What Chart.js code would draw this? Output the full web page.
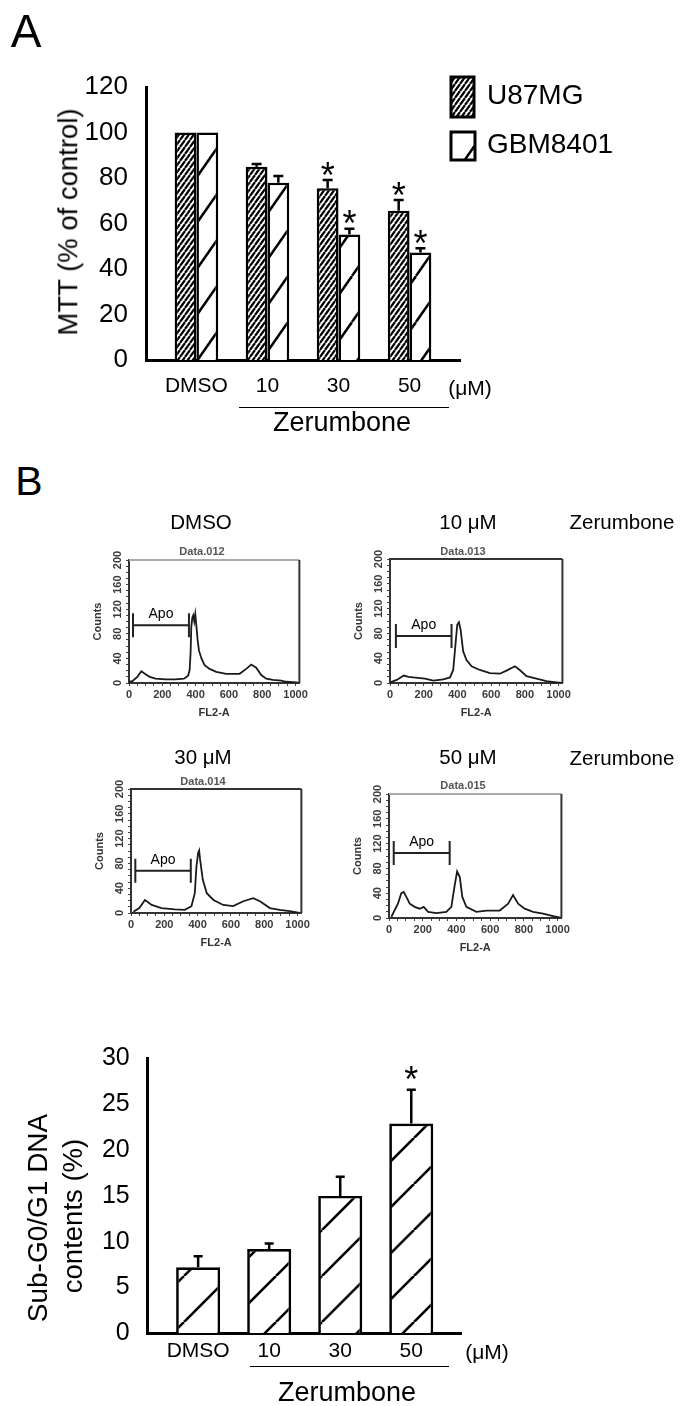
<!DOCTYPE html>
<html>
<head>
<meta charset="utf-8">
<script src="https://cdn.jsdelivr.net/npm/chart.js"></script>
<style>
  html, body { margin: 0; padding: 0; background: #fff; }
  #fig { position: relative; width: 685px; height: 1406px; background: #fff; overflow: hidden;
         font-family: "Liberation Sans", Arial, sans-serif; color: #000; }
  #fig canvas { position: absolute; }
  .t { position: absolute; white-space: nowrap; line-height: 1; transform: translate(-50%, -50%); }
  .rot { transform: translate(-50%, -50%) rotate(-90deg); }
  .small { font-weight: bold; font-size: 11px; color: #555; }
  .rule { position: absolute; height: 0; border-top: 1.5px solid #000; }
</style>
</head>
<body>
<div id="fig">
  <canvas id="mtt" width="685" height="440" style="left:0;top:0"></canvas>
  <canvas id="flow0" width="226" height="198" style="left:84px;top:530px"></canvas>
  <canvas id="flow1" width="228" height="199" style="left:345px;top:529px"></canvas>
  <canvas id="flow2" width="226" height="199" style="left:86px;top:759px"></canvas>
  <canvas id="flow3" width="228" height="199" style="left:344px;top:764px"></canvas>
  <canvas id="subg1" width="685" height="400" style="left:0;top:1000px"></canvas>

  <!-- panel A text -->
  <div class="t" style="left:26px;top:31px;font-size:46px">A</div>
  <div class="t rot" style="left:68px;top:222px;font-size:27.5px">MTT (% of control)</div>
  <div class="t" style="left:470px;top:387px;font-size:21px">(&mu;M)</div>
  <div class="rule" style="left:239px;top:407px;width:210px"></div>
  <div class="t" style="left:342px;top:422px;font-size:27px">Zerumbone</div>

  <!-- panel B text -->
  <div class="t" style="left:29px;top:481px;font-size:41px">B</div>
  <div class="t" style="left:201px;top:522px;font-size:20.5px">DMSO</div>
  <div class="t" style="left:468px;top:522px;font-size:20.5px">10 &mu;M</div>
  <div class="t" style="left:622px;top:522px;font-size:20.5px">Zerumbone</div>
  <div class="t" style="left:203px;top:757px;font-size:20.5px">30 &mu;M</div>
  <div class="t" style="left:468px;top:757px;font-size:20.5px">50 &mu;M</div>
  <div class="t" style="left:622px;top:758px;font-size:20.5px">Zerumbone</div>
  <div class="t small" id="ft0" style="left:202px;top:551px"></div>
  <div class="t small" id="ft1" style="left:463px;top:551px"></div>
  <div class="t small" id="ft2" style="left:203px;top:781px"></div>
  <div class="t small" id="ft3" style="left:463px;top:785px"></div>

  <!-- sub-G1 text -->
  <div class="t rot" style="left:38px;top:1218px;font-size:28px">Sub-G0/G1 DNA</div>
  <div class="t rot" style="left:73px;top:1216px;font-size:27.5px">contents (%)</div>
  <div class="t" style="left:487px;top:1351px;font-size:21px">(&mu;M)</div>
  <div class="rule" style="left:250px;top:1366px;width:199px"></div>
  <div class="t" style="left:347px;top:1392px;font-size:27px">Zerumbone</div>
</div>

<script>
// MTT data (% of control)
const doses = ['DMSO', '10', '30', '50'];
const u87Mtt = [100, 85, 75.5, 65.6];
const u87Err = [0, 1.2, 3.6, 4.7];
const u87Sig = [false, false, true, true];
const gbmMtt = [100, 77.9, 55.2, 47.3];
const gbmErr = [0, 3, 2.5, 1.8];
const gbmSig = [false, false, true, true];
const mttTicks = [0, 20, 40, 60, 80, 100, 120];

// Sub-G0/G1 data (%)
const subG1 = [7.2, 9.2, 15.0, 22.9];
const subG1Err = [1.2, 0.6, 2.1, 3.7];
const subG1Sig = [false, false, false, true];
const subG1Ticks = [0, 5, 10, 15, 20, 25, 30];

// Flow cytometry histograms (FL2-A channel, counts)
const flowTitles = ['Data.012', 'Data.013', 'Data.014', 'Data.015'];
const flowChannelTicks = [0, 200, 400, 600, 800, 1000];
const flowCountTicks = [0, 40, 80, 120, 160, 200];
const dmsoChannel = [0, 20, 50, 74, 95, 124, 160, 220, 280, 330, 355, 364, 370, 374, 380, 386, 392, 398, 404, 412, 420, 435, 454, 484, 524, 584, 664, 704, 734, 764, 794, 824, 864, 914, 944, 1004, 1023];
const dmsoCounts  = [2, 3, 10, 19, 15, 10, 7, 6, 6, 7, 12, 21, 50, 91, 106, 110, 100, 112, 95, 70, 53, 40, 29, 23, 18, 15, 15, 23, 30, 25, 13, 7, 5, 4, 2, 1, 0];
const z10Channel = [0, 40, 82, 110, 138, 207, 257, 316, 356, 375, 389, 399, 409, 419, 434, 454, 484, 533, 593, 652, 691, 741, 770, 810, 869, 928, 988, 1023];
const z10Counts  = [1, 5, 12, 10, 9, 7, 4, 6, 9, 21, 64, 94, 98, 86, 51, 37, 27, 21, 16, 15, 20, 27, 21, 11, 7, 3, 1, 0];
const z30Channel = [14, 50, 84, 124, 183, 263, 323, 363, 383, 393, 403, 409, 415, 431, 455, 495, 554, 614, 674, 734, 774, 834, 893, 953, 1013];
const z30Counts  = [2, 8, 21, 13, 8, 6, 5, 11, 32, 75, 97, 101, 86, 54, 32, 21, 13, 11, 19, 24, 19, 8, 5, 3, 0];
const z50Channel = [14, 53, 73, 87, 103, 123, 152, 182, 206, 232, 281, 340, 370, 390, 404, 420, 435, 459, 518, 578, 657, 707, 736, 766, 805, 855, 914, 974, 1023];
const z50Counts  = [2, 23, 40, 42, 34, 23, 18, 15, 18, 10, 8, 10, 18, 53, 75, 66, 34, 18, 10, 12, 12, 23, 37, 23, 15, 10, 7, 3, 0];
const gateStart = [24, 35, 26, 28];
const gateEnd = [360, 365, 359, 360];
const gateLevel = [94, 76, 68, 105];

const FONT = '"Liberation Sans", Arial, sans-serif';
Chart.defaults.font.family = FONT;
Chart.defaults.color = '#000';

// Hatch fill
function hatch(w, h, lw) {
    const c = document.createElement('canvas');
    c.width = w; c.height = h;
    const g = c.getContext('2d');
    g.fillStyle = '#fff';
    g.fillRect(0, 0, w, h);
    g.strokeStyle = '#000';
    g.lineWidth = lw;
    [-w, 0, w].forEach(function (dx) {
        g.beginPath();
        g.moveTo(dx, h);
        g.lineTo(dx + w, 0);
        g.stroke();
    });
    return g.createPattern(c, 'repeat');
}

// Error bars and asterisks
const errorBars = {
    id: 'errorBars',
    afterDatasetsDraw(chart, args, o) {
        const ctx = chart.ctx, y = chart.scales.y;
        ctx.save();
        ctx.strokeStyle = '#000';
        ctx.fillStyle = '#000';
        ctx.lineWidth = 2.5;
        ctx.font = '36px ' + FONT;
        ctx.textAlign = 'center';
        ctx.textBaseline = 'alphabetic';
        chart.data.datasets.forEach(function (ds, i) {
            chart.getDatasetMeta(i).data.forEach(function (bar, j) {
                const top = y.getPixelForValue(ds.data[j].y + ds.errors[j]);
                if (ds.errors[j] > 0) {
                    ctx.beginPath();
                    ctx.moveTo(bar.x, bar.y);
                    ctx.lineTo(bar.x, top);
                    ctx.moveTo(bar.x - o.cap, top);
                    ctx.lineTo(bar.x + o.cap, top);
                    ctx.stroke();
                }
                if (ds.stars[j]) ctx.fillText('*', bar.x, top - o.gap + 20.5);
            });
        });
        ctx.restore();
    }
};

// Legend with hatched swatches
const mttLegend = {
    id: 'mttLegend',
    afterDraw(chart, args, o) {
        const ctx = chart.ctx;
        ctx.save();
        chart.data.datasets.forEach(function (ds, i) {
            const b = o.boxes[i];
            ctx.fillStyle = ds.backgroundColor;
            ctx.fillRect(b[0], b[1], b[2], b[3]);
            ctx.strokeStyle = '#000';
            ctx.lineWidth = 3;
            ctx.strokeRect(b[0], b[1], b[2], b[3]);
            ctx.fillStyle = '#000';
            ctx.font = '28px ' + FONT;
            ctx.textBaseline = 'middle';
            ctx.fillText(ds.label, o.textX, b[1] + b[3] / 2 - 1);
        });
        ctx.restore();
    }
};

const denseHatch = hatch(5, 7, 2.2);
const wideHatchA = hatch(32, 46, 2.5);
const wideHatchB = hatch(46, 46, 2.6);

function barScales(labels, ticks, ymax, yWidth, xHeight, labelPad, tickFont, yPad) {
    return {
        x: {
            type: 'linear', min: -0.71, max: 3.71, offset: false,
            afterBuildTicks: function (s) { s.ticks = labels.map(function (d, i) { return {value: i}; }); },
            ticks: { callback: function (v) { return labels[v]; }, font: {size: 21}, color: '#000',
                     padding: labelPad, autoSkip: false, maxRotation: 0 },
            grid: { display: false, drawTicks: false, offset: false },
            border: { display: true, color: '#000', width: 3 },
            afterFit: function (s) { s.height = xHeight; }
        },
        y: {
            min: 0, max: ymax,
            afterBuildTicks: function (s) { s.ticks = ticks.map(function (v) { return {value: v}; }); },
            ticks: { font: {size: tickFont}, color: '#000', padding: yPad },
            grid: { display: false, drawTicks: false },
            border: { display: true, color: '#000', width: 3 },
            afterFit: function (s) { s.width = yWidth; }
        }
    };
}

// Panel A - MTT bar chart
new Chart(document.getElementById('mtt'), {
    type: 'bar',
    data: {
        datasets: [{
            label: 'U87MG',
            data: doses.map(function (d, i) { return {x: i, y: u87Mtt[i]}; }),
            errors: u87Err, stars: u87Sig,
            backgroundColor: denseHatch, borderColor: '#000', borderWidth: 2.5,
            categoryPercentage: 0.613, barPercentage: 1
        }, {
            label: 'GBM8401',
            data: doses.map(function (d, i) { return {x: i, y: gbmMtt[i]}; }),
            errors: gbmErr, stars: gbmSig,
            backgroundColor: wideHatchA, borderColor: '#000', borderWidth: 2.5,
            categoryPercentage: 0.613, barPercentage: 1
        }]
    },
    options: {
        responsive: false, animation: false, devicePixelRatio: 1,
        layout: { padding: {left: 0, top: 87, right: 225, bottom: 35} },
        plugins: {
            legend: {display: false}, tooltip: {enabled: false},
            errorBars: {cap: 5, gap: 13},
            mttLegend: {boxes: [[451, 77, 23, 40], [451, 132, 24, 28]], textX: 487}
        },
        scales: barScales(doses, mttTicks, 120, 146, 45, 14, 26, 18)
    },
    plugins: [errorBars, mttLegend]
});

// Panel B - sub-G0/G1 bar chart
new Chart(document.getElementById('subg1'), {
    type: 'bar',
    data: {
        datasets: [{
            label: 'Sub-G0/G1',
            data: doses.map(function (d, i) { return {x: i, y: subG1[i]}; }),
            errors: subG1Err, stars: subG1Sig,
            backgroundColor: wideHatchB, borderColor: '#000', borderWidth: 2.7,
            categoryPercentage: 0.62, barPercentage: 1
        }]
    },
    options: {
        responsive: false, animation: false, devicePixelRatio: 1,
        layout: { padding: {left: 0, top: 58.5, right: 223.3, bottom: 26.7} },
        plugins: {
            legend: {display: false}, tooltip: {enabled: false},
            errorBars: {cap: 4.5, gap: 18}
        },
        scales: barScales(doses, subG1Ticks, 30, 147.7, 40, 5, 25, 18)
    },
    plugins: [errorBars]
});

// Histogram frame, rotated count labels and Apo gate
const flowMarks = {
    id: 'flowMarks',
    afterDraw(chart, args, o) {
        const ctx = chart.ctx, a = chart.chartArea, x = chart.scales.x, y = chart.scales.y;
        ctx.save();
        ctx.lineWidth = 2;
        ctx.strokeStyle = o.topColor;
        ctx.beginPath();
        ctx.moveTo(a.left, a.top);
        ctx.lineTo(a.right, a.top);
        ctx.stroke();
        ctx.strokeStyle = '#333';
        ctx.beginPath();
        ctx.moveTo(a.right, a.top);
        ctx.lineTo(a.right, a.bottom);
        ctx.stroke();

        ctx.fillStyle = '#3a3a3a';
        ctx.font = 'bold 11px ' + FONT;
        ctx.textAlign = 'center';
        ctx.textBaseline = 'middle';
        flowCountTicks.forEach(function (v) {
            ctx.save();
            ctx.translate(a.left - 11, y.getPixelForValue(v));
            ctx.rotate(-Math.PI / 2);
            ctx.fillText(String(v), 0, 0);
            ctx.restore();
        });

        const x1 = x.getPixelForValue(o.gate[0]);
        const x2 = x.getPixelForValue(o.gate[1]);
        const gy = y.getPixelForValue(o.gate[2]);
        ctx.strokeStyle = '#222';
        ctx.lineWidth = 2;
        ctx.beginPath();
        ctx.moveTo(x1, gy); ctx.lineTo(x2, gy);
        ctx.moveTo(x1, gy - 12); ctx.lineTo(x1, gy + 12);
        ctx.moveTo(x2, gy - 12); ctx.lineTo(x2, gy + 12);
        ctx.stroke();
        ctx.fillStyle = '#000';
        ctx.font = '14px ' + FONT;
        ctx.fillText('Apo', (x1 + x2) / 2, gy - 11);
        ctx.restore();
    }
};

function flowChart(k, channel, counts, topColor) {
    document.getElementById('ft' + k).textContent = flowTitles[k];
    new Chart(document.getElementById('flow' + k), {
        type: 'line',
        data: {
            datasets: [{
                data: channel.map(function (c, i) { return {x: c, y: counts[i]}; }),
                borderColor: '#1a1a1a', borderWidth: 1.8, pointRadius: 0, tension: 0, fill: false
            }]
        },
        options: {
            responsive: false, animation: false, devicePixelRatio: 1,
            layout: { padding: {left: 0, top: 30, right: 10, bottom: 0} },
            plugins: {
                legend: {display: false}, tooltip: {enabled: false},
                flowMarks: {topColor: topColor, gate: [gateStart[k], gateEnd[k], gateLevel[k]]}
            },
            scales: {
                x: {
                    type: 'linear', min: 0, max: 1023,
                    afterBuildTicks: function (s) {
                        const t = [];
                        for (let v = 0; v <= 1000; v += 50) t.push({value: v});
                        s.ticks = t;
                    },
                    ticks: {
                        callback: function (v) { return flowChannelTicks.indexOf(v) >= 0 ? String(v) : ''; },
                        font: {size: 11, weight: 'bold'}, color: '#3a3a3a', padding: 2,
                        autoSkip: false, maxRotation: 0
                    },
                    grid: { display: true, drawOnChartArea: false, drawTicks: true, tickLength: 3, color: '#444' },
                    border: { display: true, color: '#333', width: 2 },
                    title: { display: true, text: 'FL2-A', font: {size: 11, weight: 'bold'}, color: '#333',
                             padding: {top: 0, bottom: 8} },
                    afterFit: function (s) { s.height = 45; }
                },
                y: {
                    min: 0, max: 200,
                    afterBuildTicks: function (s) {
                        const t = [];
                        for (let v = 0; v <= 200; v += 10) t.push({value: v});
                        s.ticks = t;
                    },
                    ticks: { display: false },
                    grid: { display: true, drawOnChartArea: false, drawTicks: true, tickLength: 3, color: '#444' },
                    border: { display: true, color: '#333', width: 2 },
                    title: { display: true, text: 'Counts', font: {size: 11, weight: 'bold'}, color: '#333',
                             padding: {top: 7, bottom: 0} },
                    afterFit: function (s) { s.width = 45; }
                }
            }
        },
        plugins: [flowMarks]
    });
}

flowChart(0, dmsoChannel, dmsoCounts, '#aaa');
flowChart(1, z10Channel, z10Counts, '#333');
flowChart(2, z30Channel, z30Counts, '#333');
flowChart(3, z50Channel, z50Counts, '#aaa');
</script>
</body>
</html>
